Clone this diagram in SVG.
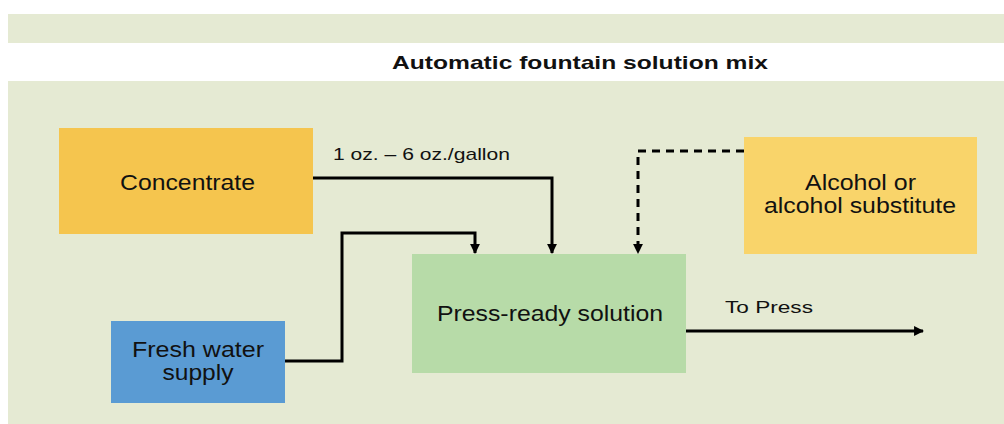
<svg xmlns="http://www.w3.org/2000/svg" width="1004" height="424" viewBox="0 0 1004 424">
<style>
text{font-family:"Liberation Sans",Arial,sans-serif;fill:#111}
.lbl{font-size:22px;text-anchor:middle}
.sm{font-size:17px}
.ln{fill:none;stroke:#000;stroke-width:3}
</style>
<defs>
<marker id="ah" viewBox="0 0 10 10" refX="9" refY="5" markerWidth="3.3" markerHeight="3.3" orient="auto" markerUnits="strokeWidth"><path d="M0,0 L10,5 L0,10 z" fill="#000"/></marker>
</defs>
<rect x="0" y="0" width="1004" height="424" fill="#fff"/>
<rect x="8" y="14" width="996" height="29" fill="#E5EAD3"/>
<rect x="8" y="81" width="996" height="343" fill="#E5EAD3"/>
<text x="580" y="68.5" font-size="18.5" font-weight="bold" text-anchor="middle" textLength="376" lengthAdjust="spacingAndGlyphs">Automatic fountain solution mix</text>
<g id="concentrate"><rect x="59" y="128" width="254" height="106" fill="#F5C54E"/><text class="lbl" x="187.5" y="190" textLength="135" lengthAdjust="spacingAndGlyphs">Concentrate</text></g>
<g id="water"><rect x="111" y="321" width="174" height="82" fill="#5A9BD3"/><text class="lbl" x="198" y="357" textLength="132" lengthAdjust="spacingAndGlyphs">Fresh water</text><text class="lbl" x="198" y="380" textLength="71" lengthAdjust="spacingAndGlyphs">supply</text></g>
<g id="press"><rect x="412" y="254" width="274" height="119" fill="#B7DBA8"/><text class="lbl" x="550" y="321" textLength="226" lengthAdjust="spacingAndGlyphs">Press-ready solution</text></g>
<g id="alcohol"><rect x="744" y="137" width="233" height="117" fill="#F9D46A"/><text class="lbl" x="860.5" y="190" textLength="111" lengthAdjust="spacingAndGlyphs">Alcohol or</text><text class="lbl" x="860" y="213" textLength="192" lengthAdjust="spacingAndGlyphs">alcohol substitute</text></g>
<g id="connectors">
<path class="ln" d="M313,178 H552 V253" marker-end="url(#ah)"/>
<path class="ln" d="M285,361 H342 V233 H475 V253" marker-end="url(#ah)"/>
<path class="ln" d="M744,151 H638 V253" stroke-dasharray="8,6" marker-end="url(#ah)"/>
<path class="ln" d="M686,331 H923" marker-end="url(#ah)"/>
<text class="sm" x="333" y="160" textLength="177" lengthAdjust="spacingAndGlyphs">1 oz. – 6 oz./gallon</text>
<text class="sm" x="725" y="313" font-size="18" textLength="88" lengthAdjust="spacingAndGlyphs">To Press</text>
</g>
</svg>
